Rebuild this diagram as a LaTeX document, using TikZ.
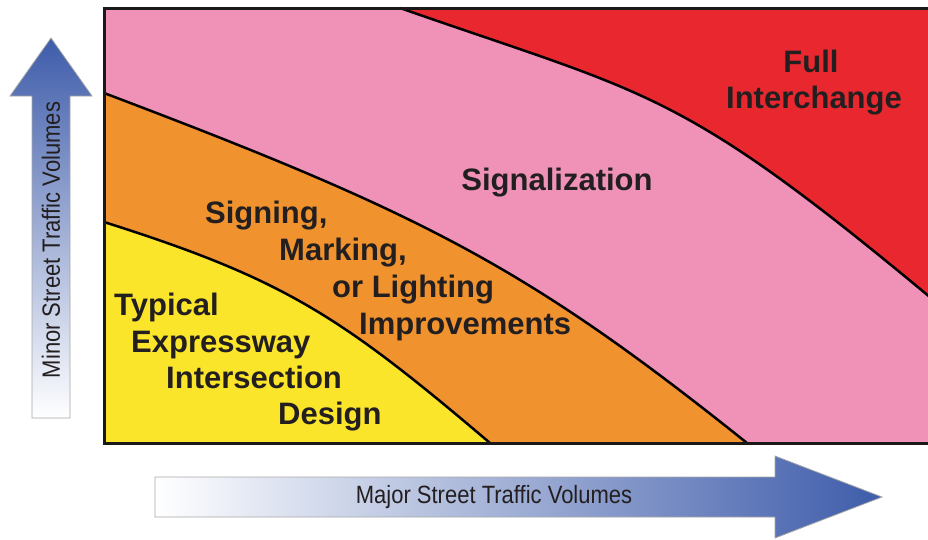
\documentclass[tikz,border=0pt]{standalone}
\usepackage{fontspec}
\setmainfont{Liberation Sans}
\newfontfamily\axisfont[FakeStretch=0.88]{Liberation Sans}
\usetikzlibrary{shapes,arrows}
\definecolor{pinkzone}{RGB}{240,146,184}
\definecolor{redzone}{RGB}{232,40,46}
\definecolor{orangezone}{RGB}{240,146,46}
\definecolor{yellowzone}{RGB}{251,229,42}
\definecolor{arrowblue}{RGB}{62,92,170}
\definecolor{textdark}{RGB}{35,31,32}
\tikzstyle{zone} = [font=\fontsize{31}{37}\selectfont\bfseries, text=textdark, inner sep=0pt]
\tikzstyle{limit} = [draw=black, line width=2.5pt, line join=round]
\tikzstyle{axis} = [draw=gray!70, line width=0.8pt]
\tikzstyle{axislabel} = [font=\axisfont\fontsize{25}{25}\selectfont, text=textdark, inner sep=0pt]

\begin{document}
\begin{tikzpicture}[x=1pt, y=-1pt]
		\useasboundingbox (0,0) rectangle (928,539);
		% zones
		\fill [pinkzone] (104,8) rectangle (931,443);
		\fill [redzone] (400,8) .. controls (650,95.5) and (678,87.5) .. (931,298) -- (931,8) -- cycle;
		\fill [orangezone] (104,93) .. controls (424,214) and (527,267) .. (747,443) -- (104,443) -- cycle;
		\fill [yellowzone] (104,222) .. controls (284,279) and (340,315.5) .. (490,443) -- (104,443) -- cycle;
		% boundaries
		\path [limit] (400,8) .. controls (650,95.5) and (678,87.5) .. (931,298);
		\path [limit] (104,93) .. controls (424,214) and (527,267) .. (747,443);
		\path [limit] (104,222) .. controls (284,279) and (340,315.5) .. (490,443);
		\draw [line width=3pt, draw=black!90] (104,8) rectangle (932,443);
		
		% axes
		\shadedraw [axis, top color=arrowblue, bottom color=white] (51,38) -- (92,96) -- (70,96) -- (70,418) -- (32,418) -- (32,96) -- (10,96) -- cycle;
		\shadedraw [axis, left color=white, right color=arrowblue] (155,477) -- (775,477) -- (775,456) -- (882,497) -- (775,538) -- (775,517) -- (155,517) -- cycle;
		\node [axislabel, rotate=90] (minor) at (51,240) {Minor Street Traffic Volumes};
		\node [axislabel] (major) at (494,497) {Major Street Traffic Volumes};
		
		% labels
		\node [zone, anchor=base] (full) at (811,72) {Full};
		\node [zone, anchor=base] (interchange) at (814,108) {Interchange};
		\node [zone, anchor=base] (signal) at (557,190) {Signalization};
		\node [zone, anchor=base west] (signing) at (205,223) {Signing,};
		\node [zone, anchor=base west] (marking) at (279,260) {Marking,};
		\node [zone, anchor=base west] (lighting) at (332,297) {or Lighting};
		\node [zone, anchor=base west] (improve) at (359,334) {Improvements};
		\node [zone, anchor=base west] (typical) at (114,315) {Typical};
		\node [zone, anchor=base west] (express) at (131,352) {Expressway};
		\node [zone, anchor=base west] (inter) at (166,388) {Intersection};
		\node [zone, anchor=base west] (design) at (278,424) {Design};
	\end{tikzpicture}
\end{document}
